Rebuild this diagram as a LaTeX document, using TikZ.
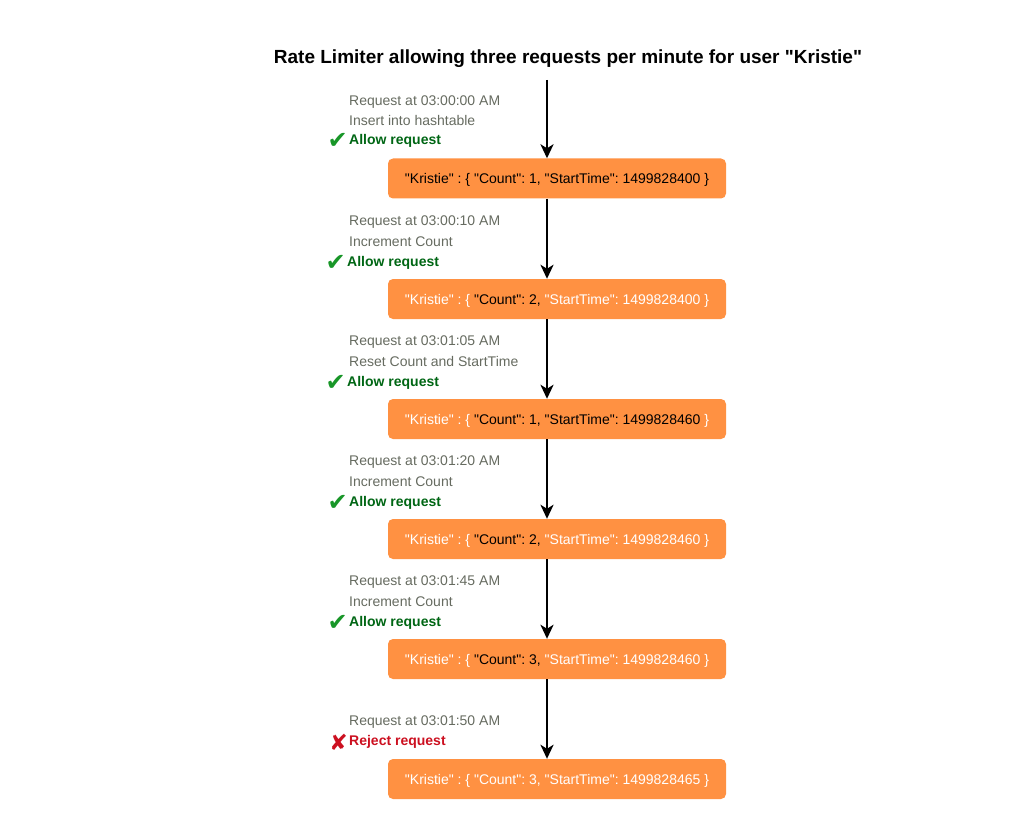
\documentclass[tikz,border=0pt]{standalone}
\usepackage{fontspec}
\setmainfont{Liberation Sans}[Ligatures=TeXOff]
\newfontfamily\symfont{DejaVu Sans}
\usetikzlibrary{positioning,arrows.meta}
\definecolor{boxorange}{RGB}{255,145,66}
\definecolor{notegray}{RGB}{102,107,96}
\definecolor{allowgreen}{RGB}{0,102,20}
\definecolor{tickgreen}{RGB}{24,150,40}
\definecolor{rejectred}{RGB}{204,16,32}
\frenchspacing
\begin{document}
\begin{tikzpicture}[x=1pt,y=-1pt]
	\tikzstyle{box}=[rectangle,rounded corners=5pt,fill=boxorange,minimum width=338pt,minimum height=40pt,inner sep=0pt,text height=13pt,text depth=2pt,text=white,font=\fontsize{14}{16}\selectfont]
	\tikzstyle{note}=[anchor=west,inner sep=0pt,text height=10pt,text depth=3pt,text=notegray,font=\fontsize{14}{16}\selectfont]
	\tikzstyle{allow}=[note,text=allowgreen,font=\fontsize{14}{16}\selectfont\bfseries]
	\tikzstyle{reject}=[note,text=rejectred,font=\fontsize{14}{16}\selectfont\bfseries]
	\tikzstyle{tick}=[inner sep=0pt,text=tickgreen,font=\symfont\fontsize{24}{24}\selectfont]
	\tikzstyle{cross}=[inner sep=0pt,text=rejectred,font=\symfont\bfseries\fontsize{22}{22}\selectfont]
	\tikzstyle{flow}=[draw,line width=2.5pt,-{Stealth[length=14pt,width=13pt,inset=4pt]}]
	\useasboundingbox (0,0) rectangle (1028,837);

	\node [font=\fontsize{19}{22}\selectfont\bfseries] (title) at (568,59) {Rate Limiter allowing three requests per minute for user "Kristie"};
	\coordinate (top) at (547,80);

	% hashtable states
	\node [box,text=black] (b1) at (557,178.5) {"Kristie" : \{ "Count": 1, "StartTime": 1499828400 \}};
	\node [box] (b2) at (557,299) {"Kristie" : \{ \textcolor{black}{"Count": 2,} "StartTime": 1499828400 \}};
	\node [box] (b3) at (557,419) {"Kristie" : \{ \textcolor{black}{"Count": 1, "StartTime": 1499828460} \}};
	\node [box] (b4) at (557,539) {"Kristie" : \{ \textcolor{black}{"Count": 2,} "StartTime": 1499828460 \}};
	\node [box] (b5) at (557,659) {"Kristie" : \{ \textcolor{black}{"Count": 3,} "StartTime": 1499828460 \}};
	\node [box] (b6) at (557,779) {"Kristie" : \{ "Count": 3, "StartTime": 1499828465 \}};

	% requests
	\node [note] (r1) at (349,102) {Request at 03:00:00 AM};
	\node [note] (s1) at (349,122) {Insert into hashtable};
	\node [allow] (a1) at (349,141) {Allow request};
	\node [tick,left=1pt of a1] (c1) {✔};

	\node [note] (r2) at (349,222) {Request at 03:00:10 AM};
	\node [note] (s2) at (349,243) {Increment Count};
	\node [allow] (a2) at (347,263) {Allow request};
	\node [tick,left=1pt of a2] (c2) {✔};

	\node [note] (r3) at (349,342) {Request at 03:01:05 AM};
	\node [note] (s3) at (349,363) {Reset Count and StartTime};
	\node [allow] (a3) at (347,383) {Allow request};
	\node [tick,left=1pt of a3] (c3) {✔};

	\node [note] (r4) at (349,462) {Request at 03:01:20 AM};
	\node [note] (s4) at (349,483) {Increment Count};
	\node [allow] (a4) at (349,503) {Allow request};
	\node [tick,left=1pt of a4] (c4) {✔};

	\node [note] (r5) at (349,582) {Request at 03:01:45 AM};
	\node [note] (s5) at (349,603) {Increment Count};
	\node [allow] (a5) at (349,623) {Allow request};
	\node [tick,left=1pt of a5] (c5) {✔};

	\node [note] (r6) at (349,722) {Request at 03:01:50 AM};
	\node [reject] (a6) at (349,742) {Reject request};
	\node [cross,left=1pt of a6] (c6) {✘};

	% arrows
	\path[flow] (top) -- (b1.north -| top);
	\path[flow] (b1.south -| top) -- (b2.north -| top);
	\path[flow] (b2.south -| top) -- (b3.north -| top);
	\path[flow] (b3.south -| top) -- (b4.north -| top);
	\path[flow] (b4.south -| top) -- (b5.north -| top);
	\path[flow] (b5.south -| top) -- (b6.north -| top);
\end{tikzpicture}
\end{document}
